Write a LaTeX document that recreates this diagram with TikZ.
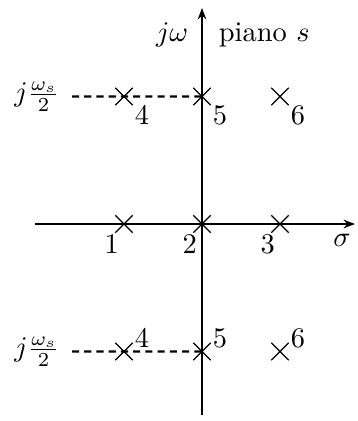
\documentclass[tikz,border=0pt]{standalone}
\usepackage{amsmath}
\usetikzlibrary{arrows.meta,positioning,shapes.misc}

\begin{document}
\begin{tikzpicture}[>={Stealth[length=4pt,width=3pt]},node distance=0.964cm,
    pole/.style={cross out,draw,thin,minimum size=0.2cm,inner sep=0pt},
    num/.style={inner sep=0.6pt},
    axis/.style={->,line width=1pt},
    alias/.style={dashed,dash pattern=on 2.5pt off 1.8pt,line width=0.8pt}]
  \useasboundingbox (-2.497,-2.435) rectangle (1.916,2.769);
  % axes
  \coordinate (xa) at (-2.064,0);
  \coordinate (xb) at (1.891,0);
  \coordinate (ya) at (0,-2.361);
  \coordinate (yb) at (0,2.670);
  \draw[axis] (xa) -- (xb);
  \draw[axis] (ya) -- (yb);
  \node (sig) at (1.73,-0.2) {$\sigma$};
  \node (jw) at (-0.37,2.34) {$j\omega$};
  \node (plane) at (0.77,2.34) {piano $s$};
  % poles on the real axis
  \node[pole,label={[num,xshift=2pt]below left:$2$}] (p2) at (0,0) {};
  \node[pole,label={[num,xshift=2pt]below left:$1$}] (p1) [left of=p2] {};
  \node[pole,label={[num,xshift=2pt]below left:$3$}] (p3) [right of=p2] {};
  % upper row
  \node[pole,label={[num,yshift=0.5pt]below right:$5$}] (u5) [above of=p2,node distance=1.576cm] {};
  \node[pole,label={[num,yshift=0.5pt]below right:$4$}] (u4) [left of=u5] {};
  \node[pole,label={[num,yshift=0.5pt]below right:$6$}] (u6) [right of=u5] {};
  % lower row
  \node[pole,label={[num,yshift=-2.5pt]above right:$5$}] (l5) [below of=p2,node distance=1.576cm] {};
  \node[pole,label={[num,yshift=-2.5pt]above right:$4$}] (l4) [left of=l5] {};
  \node[pole,label={[num,yshift=-2.5pt]above right:$6$}] (l6) [right of=l5] {};
  % half sampling frequency
  \node (wsu) at (-2.04,1.576) {$j\frac{\omega_s}{2}$};
  \node (wsl) at (-2.04,-1.576) {$j\frac{\omega_s}{2}$};
  \coordinate (du) at (-1.607,1.576);
  \coordinate (dl) at (-1.607,-1.576);
  \draw[alias] (du) -- (u5.center);
  \draw[alias] (dl) -- (l5.center);
\end{tikzpicture}
\end{document}
